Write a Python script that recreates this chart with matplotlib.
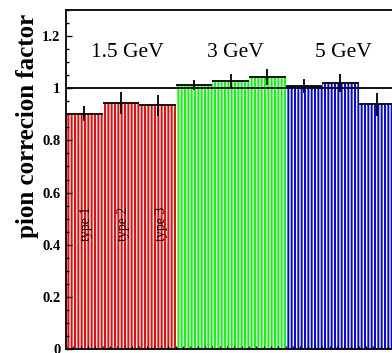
import matplotlib
matplotlib.use("Agg")
import matplotlib.pyplot as plt
from matplotlib.ticker import MultipleLocator, NullFormatter

# Pion correction factor per energy and detector type
energies = ["1.5 GeV", "3 GeV", "5 GeV"]
types = ["type 1", "type 2", "type 3"]
factors = [0.903, 0.944, 0.934,
           1.013, 1.029, 1.042,
           1.008, 1.020, 0.938]
errors = [0.027, 0.042, 0.040,
          0.018, 0.027, 0.030,
          0.027, 0.033, 0.043]
group_colors = ["#ff0000", "#00ff00", "#0000ff"]
y_ticks = [0, 0.2, 0.4, 0.6, 0.8, 1.0, 1.2]
y_tick_labels = ["0", "0.2", "0.4", "0.6", "0.8", "1", "1.2"]

plt.rcParams["font.family"] = ["Liberation Serif", "DejaVu Serif"]
plt.rcParams["hatch.linewidth"] = 1.4

fig = plt.figure(figsize=(3.92, 3.53), dpi=100)
ax = fig.add_axes([66 / 392, 4 / 353, 329.4 / 392, 339 / 353])

n_types = len(types)
for i, val in enumerate(factors):
    color = group_colors[i // n_types]
    ax.bar(i + 0.5, val, width=1.0, facecolor="white", edgecolor=color,
           hatch="|||||", linewidth=0, zorder=1)
    ax.hlines(val, i, i + 1, color="black", lw=1.3, zorder=3)
    ax.vlines(i + 0.5, val - errors[i], val + errors[i],
              color="black", lw=1.3, zorder=3)

ax.axhline(1.0, color="black", lw=1.3, zorder=4)

# energy labels above each group
label_x = [1.67, 4.64, 7.57]
for name, x in zip(energies, label_x):
    ax.text(x, 1.138, name, ha="center", va="center", fontsize=15.5, zorder=5)

# detector type labels inside the first group
type_x = [0.57, 1.56, 2.62]
for name, x in zip(types, type_x):
    ax.text(x, 0.479, name, ha="center", va="center", rotation=90,
            fontsize=10, zorder=5)

ax.set_xlim(0, 9)
ax.set_ylim(0, 1.3)
ax.set_yticks(y_ticks)
ax.set_yticklabels(y_tick_labels, fontweight="bold", fontsize=10.5)
ax.yaxis.set_minor_locator(MultipleLocator(0.05))
ax.xaxis.set_major_locator(MultipleLocator(1.0))
ax.xaxis.set_minor_locator(MultipleLocator(0.2))
ax.xaxis.set_major_formatter(NullFormatter())
ax.tick_params(axis="y", which="major", direction="in", length=4.5, width=1, pad=4)
ax.tick_params(axis="y", which="minor", direction="in", length=2.3, width=1)
ax.tick_params(axis="x", which="both", direction="in", length=2.2, width=1)
for side in ["left", "top", "bottom", "right"]:
    ax.spines[side].set_linewidth(1.3)
    ax.spines[side].set_zorder(6)

fig.text(0.069, 0.643, "pion correcion factor", rotation=90, ha="center",
         va="center", fontsize=18, fontweight="bold")

fig.savefig("out.png", dpi=100)
